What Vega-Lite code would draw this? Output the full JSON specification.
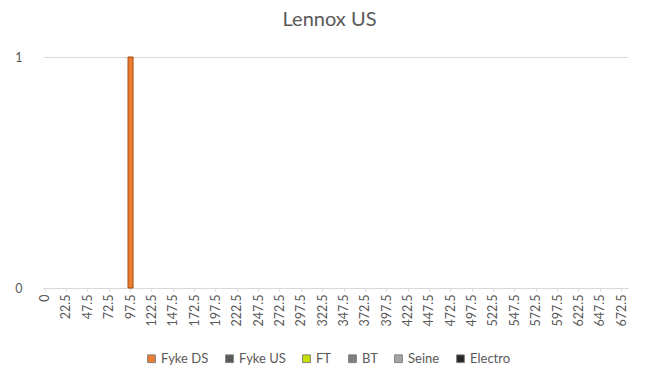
{
  "$schema": "https://vega.github.io/schema/vega-lite/v6.json",
  "autosize": {"type": "none"},
  "width": 585,
  "height": 231,
  "padding": {"left": 43, "top": 57, "right": 26, "bottom": 88},
  "background": "#ffffff",
  "config": {
    "font": "Lato",
    "view": {"stroke": null},
    "axis": {"labelColor": "#595959", "labelFont": "Lato", "gridColor": "#d9d9d9", "domainColor": "#d9d9d9", "tickColor": "#d9d9d9"}
  },
  "title": {
    "text": "Lennox US",
    "fontSize": 20,
    "fontWeight": "normal",
    "color": "#595959",
    "font": "Lato",
    "anchor": "middle",
    "offset": 21,
    "dx": -6
  },
  "data": {
    "values": [
      {"Size": 97.5, "Method": "Fyke DS", "Count": 1}
    ]
  },
  "mark": {"type": "bar", "size": 5, "stroke": "#9E480E", "strokeWidth": 1},
  "encoding": {
    "x": {
      "field": "Size",
      "type": "ordinal",
      "sort": null,
      "scale": {
        "type": "band",
        "paddingInner": 0,
        "paddingOuter": 0,
        "domain": [0, 2.5, 7.5, 12.5, 17.5, 22.5, 27.5, 32.5, 37.5, 42.5, 47.5, 52.5, 57.5, 62.5, 67.5, 72.5, 77.5, 82.5, 87.5, 92.5, 97.5,
          102.5, 107.5, 112.5, 117.5, 122.5, 127.5, 132.5, 137.5, 142.5, 147.5, 152.5, 157.5, 162.5, 167.5, 172.5, 177.5, 182.5, 187.5, 192.5, 197.5,
          202.5, 207.5, 212.5, 217.5, 222.5, 227.5, 232.5, 237.5, 242.5, 247.5, 252.5, 257.5, 262.5, 267.5, 272.5, 277.5, 282.5, 287.5, 292.5, 297.5,
          302.5, 307.5, 312.5, 317.5, 322.5, 327.5, 332.5, 337.5, 342.5, 347.5, 352.5, 357.5, 362.5, 367.5, 372.5, 377.5, 382.5, 387.5, 392.5, 397.5,
          402.5, 407.5, 412.5, 417.5, 422.5, 427.5, 432.5, 437.5, 442.5, 447.5, 452.5, 457.5, 462.5, 467.5, 472.5, 477.5, 482.5, 487.5, 492.5, 497.5,
          502.5, 507.5, 512.5, 517.5, 522.5, 527.5, 532.5, 537.5, 542.5, 547.5, 552.5, 557.5, 562.5, 567.5, 572.5, 577.5, 582.5, 587.5, 592.5, 597.5,
          602.5, 607.5, 612.5, 617.5, 622.5, 627.5, 632.5, 637.5, 642.5, 647.5, 652.5, 657.5, 662.5, 667.5, 672.5, 677.5]
      },
      "axis": {
        "title": null,
        "values": [0, 22.5, 47.5, 72.5, 97.5, 122.5, 147.5, 172.5, 197.5, 222.5, 247.5, 272.5, 297.5, 322.5, 347.5, 372.5, 397.5, 422.5, 447.5, 472.5, 497.5, 522.5, 547.5, 572.5, 597.5, 622.5, 647.5, 672.5],
        "labelAngle": -90,
        "labelAlign": "right",
        "labelBaseline": "middle",
        "labelFontSize": 12.5,
        "labelPadding": 3,
        "tickSize": 3,
        "labelOverlap": false,
        "grid": false
      }
    },
    "y": {
      "field": "Count",
      "type": "quantitative",
      "scale": {"domain": [0, 1], "nice": false},
      "axis": {
        "title": null,
        "values": [0, 1],
        "format": "d",
        "domain": false,
        "ticks": false,
        "grid": true,
        "labelPadding": 21,
        "labelFontSize": 12.5
      }
    },
    "color": {
      "field": "Method",
      "type": "nominal",
      "scale": {
        "domain": ["Fyke DS", "Fyke US", "FT", "BT", "Seine", "Electro"],
        "range": ["#ED7D31", "#595959", "#C8E000", "#7F7F7F", "#A5A5A5", "#262626"]
      },
      "legend": {
        "title": null,
        "orient": "none",
        "direction": "horizontal",
        "legendX": 102,
        "legendY": 295,
        "symbolType": "square",
        "symbolSize": 60,
        "symbolStrokeColor": "#7f7f7f",
        "symbolStrokeWidth": 1,
        "labelFontSize": 13,
        "labelColor": "#595959",
        "labelFont": "Lato",
        "columnPadding": 14,
        "labelOffset": 3
      }
    }
  }
}
